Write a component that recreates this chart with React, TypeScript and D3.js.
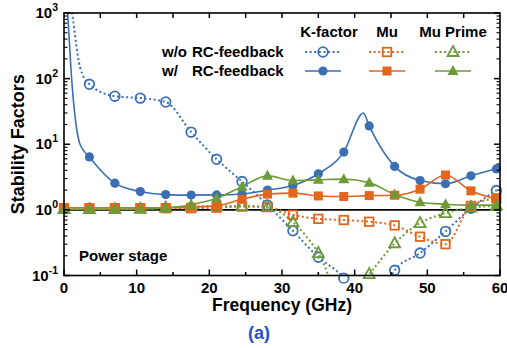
import React from "react";
import * as d3 from "d3";

const freq = [0, 3.5, 7, 10.5, 14, 17.5, 21, 24.5, 28, 31.5, 35, 38.5, 42, 45.5, 49, 52.5, 56, 59.5];

const kWo = [5000, 82, 54, 50.5, 44, 15.3, 5.9, 2.7, 1.19, 0.48, 0.19, 0.091, 0.02, 0.12, 0.22, 0.47, 1.06, 1.97];
const kW = [5000, 6.4, 2.55, 1.9, 1.71, 1.68, 1.69, 1.75, 2.0, 2.35, 3.55, 7.6, 19, 4.6, 2.8, 2.5, 3.3, 4.2];
const muWo = [1.06, 1.06, 1.06, 1.06, 1.06, 1.06, 1.08, 1.12, 1.1, 0.84, 0.73, 0.7, 0.66, 0.58, 0.39, 0.3, 1.15, 1.5];
const muW = [1.08, 1.08, 1.08, 1.08, 1.08, 1.1, 1.16, 1.45, 1.74, 1.8, 1.63, 1.6, 1.65, 1.67, 2.07, 3.4, 1.95, 1.46];
const muPWo = [1.03, 1.03, 1.03, 1.04, 1.08, 1.12, 1.15, 1.15, 1.1, 0.65, 0.22, 0.04, 0.105, 0.31, 0.63, 0.89, 1.08, 1.15];
const muPW = [1.02, 1.02, 1.02, 1.03, 1.07, 1.2, 1.5, 2.26, 3.3, 2.8, 2.87, 2.94, 2.6, 1.72, 1.31, 1.22, 1.18, 1.18];

// extra curve knots (steep start, resonance peak, right end)
const kWKnotX = [0.5, 1.05, 2.2, 41.2, 60];
const kWKnotY = [1000, 100, 10, 30, 4.3];
const kWoKnotX = [1.1, 2.2];
const kWoKnotY = [1000, 150];

const xTicks = [0, 10, 20, 30, 40, 50, 60];
const yExps = [-1, 0, 1, 2, 3];

const BLUE = "#3b6fb3";
const ORANGE = "#e2661c";
const GREEN = "#6f9a38";

const L = 64, R = 500, T = 13, B = 275.5;
const x = d3.scaleLinear().domain([0, 60]).range([L, R]);
const y = d3.scaleLog().domain([0.1, 1000]).range([B, T]);

const lineGen = d3
  .line<[number, number]>()
  .x((d) => x(d[0]))
  .y((d) => y(d[1]))
  .curve(d3.curveMonotoneX);

function pts(vals: number[], kx: number[] = [], ky: number[] = []): [number, number][] {
  const p: [number, number][] = freq.map((f, i) => [f, vals[i]]);
  kx.forEach((k, i) => p.push([k, ky[i]]));
  p.sort((a, b) => a[0] - b[0]);
  return p;
}

type Shape = "circle" | "square" | "tri";

function Marker({ cx, cy, shape, color, filled }: { cx: number; cy: number; shape: Shape; color: string; filled: boolean }) {
  const fill = filled ? color : "none";
  const sw = filled ? 0 : 1.8;
  if (shape === "circle") {
    return <circle cx={cx} cy={cy} r={filled ? 4.6 : 4.8} fill={fill} stroke={color} strokeWidth={sw} />;
  }
  if (shape === "square") {
    const s = filled ? 9 : 8.5;
    return <rect x={cx - s / 2} y={cy - s / 2} width={s} height={s} fill={fill} stroke={color} strokeWidth={sw} />;
  }
  const h = 10;
  const w = 11;
  const d = `M${cx},${cy - h * 0.6}L${cx + w / 2},${cy + h * 0.4}L${cx - w / 2},${cy + h * 0.4}Z`;
  return <path d={d} fill={fill} stroke={color} strokeWidth={sw} strokeLinejoin="miter" />;
}

const series = [
  { vals: kWo, kx: kWoKnotX, ky: kWoKnotY, color: BLUE, shape: "circle" as Shape, filled: false },
  { vals: muWo, kx: [], ky: [], color: ORANGE, shape: "square" as Shape, filled: false },
  { vals: muPWo, kx: [], ky: [], color: GREEN, shape: "tri" as Shape, filled: false },
  { vals: kW, kx: kWKnotX, ky: kWKnotY, color: BLUE, shape: "circle" as Shape, filled: true },
  { vals: muW, kx: [], ky: [], color: ORANGE, shape: "square" as Shape, filled: true },
  { vals: muPW, kx: [], ky: [], color: GREEN, shape: "tri" as Shape, filled: true },
];

const DASH = "2 2.6";
const FONT = "'Liberation Sans', Arial, sans-serif";

export default function App() {
  const minorX = d3.range(5, 60, 10);
  const topX = d3.range(5, 60, 5);
  const minorY: number[] = [];
  for (let e = -1; e < 3; e++) for (let m = 2; m <= 9; m++) minorY.push(m * Math.pow(10, e));

  const legendCols = [
    { cx: 323, color: BLUE, shape: "circle" as Shape, label: "K-factor" },
    { cx: 387, color: ORANGE, shape: "square" as Shape, label: "Mu" },
    { cx: 453, color: GREEN, shape: "tri" as Shape, label: "Mu Prime" },
  ];

  return (
    <svg width={507} height={348} style={{ position: "absolute", left: 0, top: 0, background: "#fff" }} fontFamily={FONT}>
      <defs>
        <clipPath id="plotClip">
          <rect x={L} y={T} width={R - L} height={B - T} />
        </clipPath>
        <clipPath id="markClip">
          <rect x={L - 10} y={T - 6} width={R - L + 20} height={B - T + 14} />
        </clipPath>
      </defs>

      {/* reference line at 1 */}
      <line x1={L} x2={R} y1={y(1)} y2={y(1)} stroke="#000" strokeWidth={1.6} />

      {/* lines */}
      <g clipPath="url(#plotClip)">
        {series.map((s, i) => (
          <path
            key={i}
            d={lineGen(pts(s.vals, s.kx, s.ky)) || ""}
            fill="none"
            stroke={s.color}
            strokeWidth={s.filled ? 1.6 : 2}
            strokeDasharray={s.filled ? undefined : DASH}
          />
        ))}
      </g>
      {/* markers */}
      <g clipPath="url(#markClip)">
        {series.map((s, i) => (
          <g key={i}>
            {freq.map((f, j) => (
              <Marker key={j} cx={x(f)} cy={y(s.vals[j])} shape={s.shape} color={s.color} filled={s.filled} />
            ))}
          </g>
        ))}
      </g>

      {/* frame */}
      <rect x={L} y={T} width={R - L} height={B - T} fill="none" stroke="#000" strokeWidth={1.6} />

      {/* bottom ticks */}
      {xTicks.map((t) => (
        <line key={"bx" + t} x1={x(t)} x2={x(t)} y1={B} y2={B - 6} stroke="#000" strokeWidth={1.5} />
      ))}
      {minorX.map((t) => (
        <line key={"bm" + t} x1={x(t)} x2={x(t)} y1={B} y2={B - 3.5} stroke="#000" strokeWidth={1.5} />
      ))}
      {topX.map((t) => (
        <line key={"tx" + t} x1={x(t)} x2={x(t)} y1={T} y2={T + 5} stroke="#000" strokeWidth={1.5} />
      ))}
      {/* y ticks */}
      {yExps.map((e) => (
        <g key={"ye" + e}>
          <line x1={L} x2={L + 6} y1={y(Math.pow(10, e))} y2={y(Math.pow(10, e))} stroke="#000" strokeWidth={1.5} />
          <line x1={R} x2={R - 6} y1={y(Math.pow(10, e))} y2={y(Math.pow(10, e))} stroke="#000" strokeWidth={1.5} />
        </g>
      ))}
      {minorY.map((v, i) => (
        <g key={"ym" + i}>
          <line x1={L} x2={L + 3.5} y1={y(v)} y2={y(v)} stroke="#000" strokeWidth={1.1} />
          <line x1={R} x2={R - 3.5} y1={y(v)} y2={y(v)} stroke="#000" strokeWidth={1.1} />
        </g>
      ))}

      {/* tick labels */}
      {xTicks.map((t) => (
        <text key={"xl" + t} x={x(t)} y={293} textAnchor="middle" fontSize={15} fontWeight="bold">
          {t}
        </text>
      ))}
      {yExps.map((e) => (
        <text key={"yl" + e} x={58} y={y(Math.pow(10, e)) + 5} textAnchor="end" fontSize={15} fontWeight="bold">
          <tspan>10</tspan>
          <tspan dy={-7} fontSize={10.5}>{e}</tspan>
        </text>
      ))}

      {/* axis titles */}
      <text x={282} y={311} textAnchor="middle" fontSize={17.5} fontWeight="bold">
        Frequency (GHz)
      </text>
      <text x={259} y={339} textAnchor="middle" fontSize={18} fontWeight="bold" fill="#1f4fd1">
        (a)
      </text>
      <text transform={`translate(24,${(T + B) / 2}) rotate(-90)`} textAnchor="middle" fontSize={18} fontWeight="bold">
        Stability Factors
      </text>

      <text x={79} y={261} fontSize={15} fontWeight="bold">
        Power stage
      </text>

      {/* legend */}
      {legendCols.map((c) => (
        <g key={c.label}>
          <text x={c.cx + (c.label === "K-factor" ? 6 : 0)} y={37} textAnchor="middle" fontSize={15} fontWeight="bold">
            {c.label}
          </text>
          <line x1={c.cx - 18} x2={c.cx + 18} y1={52} y2={52} stroke={c.color} strokeWidth={2} strokeDasharray={DASH} />
          <Marker cx={c.cx} cy={52} shape={c.shape} color={c.color} filled={false} />
          <line x1={c.cx - 18} x2={c.cx + 18} y1={71} y2={71} stroke={c.color} strokeWidth={1.6} />
          <Marker cx={c.cx} cy={71} shape={c.shape} color={c.color} filled={true} />
        </g>
      ))}
      <text x={162} y={57} fontSize={15} fontWeight="bold">w/o</text>
      <text x={192} y={57} fontSize={15} fontWeight="bold">RC-feedback</text>
      <text x={162} y={76} fontSize={15} fontWeight="bold">w/</text>
      <text x={192} y={76} fontSize={15} fontWeight="bold">RC-feedback</text>
    </svg>
  );
}
